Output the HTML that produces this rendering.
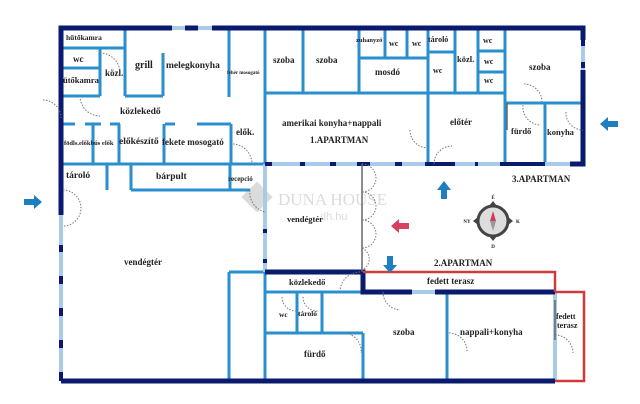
<!DOCTYPE html>
<html><head><meta charset="utf-8"><style>
html,body{margin:0;padding:0;background:#fff;}
svg{display:block;}
text{font-family:"Liberation Serif",serif;font-weight:bold;fill:#222;}
</style></head><body>
<svg width="640" height="404" viewBox="0 0 640 404" xmlns="http://www.w3.org/2000/svg">
<!-- watermark -->
<g opacity="0.35">
<rect x="246" y="186" width="22" height="22" transform="rotate(45 257 197)" fill="#999"/>
<text x="278" y="205" font-size="17" style="fill:#999;font-weight:normal">DUNA HOUSE</text>
<text x="320" y="220" font-size="11" style="fill:#999;font-weight:normal;font-family:'Liberation Sans',sans-serif">dh.hu</text>
</g>
<!-- mid blue interior walls -->
<g stroke="#2a8fcf" stroke-width="3" fill="none">
<path d="M63 48H125 M63 68H100 M63 96H100 M125 28V96 M100 48V96 M125 96H163 M163 53V96 M229 30V97"/>
<path d="M63 124H75 M85 124H101 M110 124H120 M165 124H175 M197 124H231 M93 124V164 M119 124V164 M164 124V164 M231 124V164 M63 164H265"/>
<path d="M107 164V190 M131 164V190 M131 190H250 M230 164V190 M265 28V164"/>
<path d="M303 28V93 M265 93H430 M359 28V93 M359 58H428 M385 28V58 M407 28V58 M428 28V164 M428 52H455 M455 28V93 M478 28V93 M478 51H505 M478 72H505 M505 28V164 M428 93H505 M505 103H583 M545 103V164"/>
<path d="M229 272V381 M229 272H265 M265 272V381 M265 292H363 M297 292V333 M322 292V333 M265 333H363 M363 333V381 M447 292V381"/>
</g>
<!-- light walls -->
<g stroke="#a8cbe8" stroke-width="4" fill="none">
<path d="M61 215V381 M265 164V272 M265 164H583 M583 40V110 M555 292V381 M172 28H212 M412 292H435 M547 164H570"/>
</g>
<!-- dark ticks on light walls -->
<g stroke="#0a1a6e" stroke-width="4" fill="none">
<path d="M61 245V252 M61 276V284 M61 308V316 M61 340V348 M61 372V381 M265 229V233 M265 259V263 M265 164H272 M300 164H305 M330 164H336 M357 164H370 M395 164H402 M425 164H455 M475 164H478 M500 164H545 M583 40V46 M583 62V68"/>
</g>
<!-- dark outer walls -->
<g stroke="#0a1a6e" stroke-width="5" fill="none">
<path d="M61 215V28H172 M185 28H198 M212 28H583V40 M583 70V164H570 M61 381H555 M265 272H363V292H412 M435 292H555"/>
</g>
<!-- thin gray partitions -->
<g stroke="#666" stroke-width="1.5" fill="none">
<path d="M362 164V272 M555 300V340 M507 103V130"/>
</g>
<!-- red terrace -->
<g stroke="#d23a3a" stroke-width="2.5" fill="none">
<path d="M363 272H555V292 M555 292H584V381H555"/>
</g>
<!-- doors -->
<g stroke="#777" stroke-width="1" stroke-dasharray="1.5 1.5" fill="none">
<path d="M100 53A20 20 0 0 1 120 73 M80 96A20 20 0 0 0 100 116 M43 100A18 18 0 0 1 61 118 M233 144A20 20 0 0 1 252 164 M63 190A18 18 0 0 1 63 226 M250 190A20 20 0 0 0 265 212 M362 164A14 14 0 0 1 362 192 M362 192A14 14 0 0 1 362 220 M362 220A14 14 0 0 1 362 248 M362 248A12 12 0 0 1 362 270 M340 292A20 20 0 0 1 360 272 M383 292A18 18 0 0 0 400 310 M343 333A18 18 0 0 1 361 353 M449 333A18 18 0 0 1 467 351 M555 335A18 18 0 0 1 573 353 M410 130A18 18 0 0 0 428 148 M434 164A18 18 0 0 1 452 146 M524 84A18 18 0 0 1 542 102 M523 105A18 18 0 0 0 540 125 M566 112A17 17 0 0 0 583 130 M282 297A14 14 0 0 0 296 311 M303 297A14 14 0 0 0 318 311"/>
</g>
<!-- arrows -->
<g fill="#1e7fc0">
<path d="M24 199H34V195L42 202L34 209V205H24Z"/>
<path d="M618 121H608V117L600 124L608 131V127H618Z"/>
<path d="M441 199V190H437L444 181L451 190H447V199Z"/>
<path d="M387 256V265H383L390 273L397 265H393V256Z"/>
</g>
<path d="M409 223H399V219L391 226L399 233V229H409Z" fill="#d6415f"/>
<!-- compass -->
<g>
<circle cx="493" cy="221" r="15" fill="#ddd" stroke="#444" stroke-width="3"/>
<path d="M493 201L489 206H497Z M493 241L489 236H497Z M473 221L478 217V225Z M513 221L508 217V225Z" fill="#444"/>
<path d="M490 221L493 211L496 221Z" fill="#d23a5a"/>
<path d="M490 221L493 231L496 221Z" fill="#999"/>
<text x="493" y="199" font-size="5" text-anchor="middle">É</text>
<text x="493" y="248" font-size="5" text-anchor="middle">D</text>
<text x="467" y="223" font-size="5" text-anchor="middle">NY</text>
<text x="518" y="223" font-size="5" text-anchor="middle">K</text>
</g>
<!-- labels -->
<g font-size="9">
<text x="66" y="40" font-size="7.5">hűtőkamra</text>
<text x="73" y="62">wc</text>
<text x="63" y="83" font-size="8.5">ütőkamra</text>
<text x="105" y="76">közl.</text>
<text x="135" y="68" font-size="10">grill</text>
<text x="166" y="68" font-size="9.5">melegkonyha</text>
<text x="227" y="74" font-size="5">fehér mosogató</text>
<text x="120" y="114" font-size="9.5">közlekedő</text>
<text x="64" y="145" font-size="6.5">födls.előkbús elők</text>
<text x="119" y="144" font-size="9.5">előkészítő</text>
<text x="162" y="145" font-size="9">fekete mosogató</text>
<text x="236" y="135">elők.</text>
<text x="66" y="178" font-size="9.5">tároló</text>
<text x="156" y="179" font-size="9.5">bárpult</text>
<text x="228" y="181" font-size="7">recepció</text>
<text x="124" y="265">vendégtér</text>
<text x="287" y="222" font-size="8.5">vendégtér</text>
<text x="273" y="63">szoba</text>
<text x="316" y="63">szoba</text>
<text x="356" y="42" font-size="6.5">zuhanyzó</text>
<text x="389" y="46" font-size="8">wc</text>
<text x="412" y="46" font-size="8">wc</text>
<text x="428" y="42" font-size="8">tároló</text>
<text x="375" y="75">mosdó</text>
<text x="433" y="73" font-size="8">wc</text>
<text x="457" y="62" font-size="8.5">közl.</text>
<text x="483" y="43" font-size="8">wc</text>
<text x="484" y="64" font-size="8">wc</text>
<text x="484" y="83" font-size="8">wc</text>
<text x="529" y="70">szoba</text>
<text x="282" y="126" font-size="9">amerikai konyha+nappali</text>
<text x="310" y="143" font-size="9">1.APARTMAN</text>
<text x="450" y="125">előtér</text>
<text x="511" y="134" font-size="8.5">fürdő</text>
<text x="547" y="135" font-size="8.5">konyha</text>
<text x="512" y="182" font-size="9">3.APARTMAN</text>
<text x="434" y="266" font-size="9">2.APARTMAN</text>
<text x="427" y="284" font-size="9">fedett terasz</text>
<text x="289" y="285" font-size="8.5">közlekedő</text>
<text x="279" y="317" font-size="7.5">wc</text>
<text x="298" y="316" font-size="7.5">tároló</text>
<text x="393" y="335">szoba</text>
<text x="460" y="335">nappali+konyha</text>
<text x="304" y="357">fürdő</text>
<text x="556" y="319" font-size="8">fedett</text>
<text x="557" y="328" font-size="8">terasz</text>
</g>
</svg>
</body></html>
